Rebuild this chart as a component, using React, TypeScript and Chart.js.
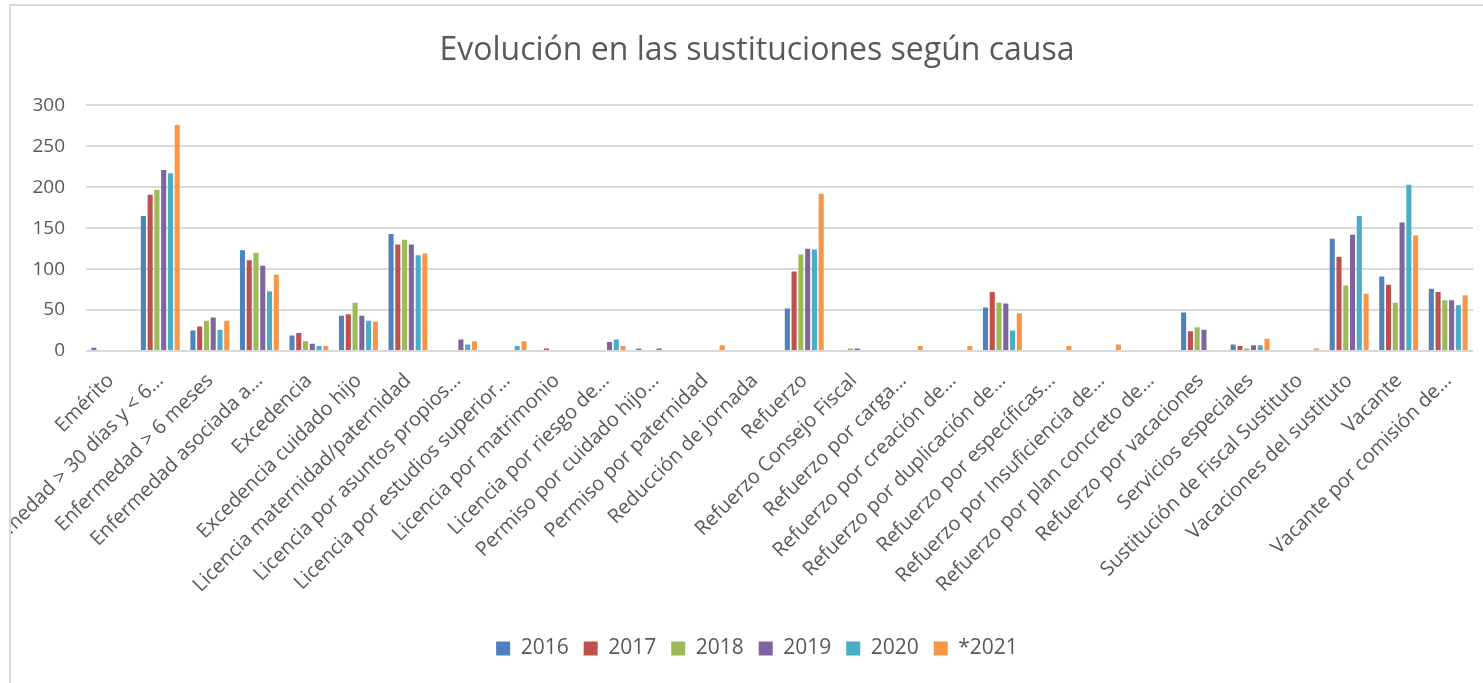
import { useEffect, useRef } from "react";
import { Chart, registerables } from "chart.js";

Chart.register(...registerables);

const FONT = "Open Sans";
const TEXT_COLOR = "#595959";

const categories = [
  "Emérito",
  "Enfermedad > 30 días y < 6…",
  "Enfermedad > 6 meses",
  "Enfermedad asociada a…",
  "Excedencia",
  "Excedencia cuidado hijo",
  "Licencia maternidad/paternidad",
  "Licencia por asuntos propios…",
  "Licencia por estudios superior…",
  "Licencia por matrimonio",
  "Licencia por riesgo de…",
  "Permiso por cuidado hijo…",
  "Permiso por paternidad",
  "Reducción de jornada",
  "Refuerzo",
  "Refuerzo Consejo Fiscal",
  "Refuerzo por carga…",
  "Refuerzo por creación de…",
  "Refuerzo por duplicación de…",
  "Refuerzo por específicas…",
  "Refuerzo por Insuficiencia de…",
  "Refuerzo por plan concreto de…",
  "Refuerzo por vacaciones",
  "Servicios especiales",
  "Sustitución de Fiscal Sustituto",
  "Vacaciones del sustituto",
  "Vacante",
  "Vacante por comisión de…",
];

const seriesLabels = ["2016", "2017", "2018", "2019", "2020", "*2021"];

const values2016 = [4, 165, 25, 123, 19, 43, 143, 0, 0, 0, 0, 3, 0, 0, 52, 0, 0, 0, 53, 0, 0, 0, 47, 8, 0, 137, 91, 76];
const values2017 = [0, 191, 30, 111, 22, 45, 130, 0, 0, 3, 0, 0, 0, 0, 97, 0, 0, 0, 72, 0, 0, 0, 24, 6, 0, 115, 81, 72];
const values2018 = [0, 197, 37, 120, 12, 59, 136, 0, 0, 0, 0, 0, 0, 0, 118, 3, 0, 0, 59, 0, 0, 0, 29, 3, 0, 80, 59, 62];
const values2019 = [0, 221, 41, 104, 9, 43, 130, 14, 0, 0, 11, 3, 0, 0, 125, 3, 0, 0, 58, 0, 0, 0, 26, 7, 0, 142, 157, 62];
const values2020 = [0, 217, 26, 73, 6, 37, 117, 8, 6, 0, 14, 0, 0, 0, 124, 0, 0, 0, 25, 0, 0, 0, 0, 7, 0, 165, 203, 56];
const values2021 = [0, 276, 37, 93, 6, 36, 119, 12, 12, 0, 6, 0, 7, 0, 192, 0, 6, 6, 46, 6, 8, 0, 0, 15, 3, 70, 141, 68];

const seriesColors = ["#4F81BD", "#C0504D", "#9BBB59", "#8064A2", "#4BACC6", "#F79646"];

const yMin = 0;
const yMax = 300;
const yStep = 50;

export default function App() {
  const canvasRef = useRef<HTMLCanvasElement>(null);

  useEffect(() => {
    if (!canvasRef.current) return;
    const allSeries = [values2016, values2017, values2018, values2019, values2020, values2021];
    const chart = new Chart(canvasRef.current, {
      type: "bar",
      data: {
        labels: categories,
        datasets: allSeries.map((d, i) => ({
          label: seriesLabels[i],
          data: d,
          backgroundColor: seriesColors[i],
          borderWidth: 0,
          categoryPercentage: 0.82,
          barPercentage: 0.75,
        })),
      },
      options: {
        responsive: false,
        animation: false,
        layout: { padding: { top: 0, left: 0, right: 10, bottom: 14 } },
        plugins: {
          title: {
            display: true,
            text: "Evolución en las sustituciones según causa",
            color: TEXT_COLOR,
            font: { family: FONT, size: 32, weight: "normal" },
            padding: { top: 26, bottom: 35 },
          },
          legend: {
            position: "bottom",
            labels: {
              color: TEXT_COLOR,
              font: { family: FONT, size: 21 },
              boxWidth: 14,
              boxHeight: 14,
              padding: 15,
            },
          },
          tooltip: { enabled: false },
        },
        scales: {
          x: {
            grid: { display: false },
            border: { display: false },
            ticks: {
              color: TEXT_COLOR,
              font: { family: FONT, size: 20 },
              minRotation: 45,
              maxRotation: 45,
              autoSkip: false,
              padding: 10,
            },
            afterFit: (s: any) => {
              s.height = 272;
            },
          },
          y: {
            min: yMin,
            max: yMax,
            ticks: {
              stepSize: yStep,
              color: TEXT_COLOR,
              font: { family: FONT, size: 19 },
              padding: 21,
            },
            grid: { color: "#d9d9d9", lineWidth: 2, drawTicks: false },
            border: { display: false },
            afterFit: (s: any) => {
              s.width = 75;
            },
          },
          yRightSpacer: {
            type: "linear",
            position: "right",
            min: yMin,
            max: yMax,
            grid: { display: false, drawTicks: false },
            border: { display: false },
            ticks: { display: false },
            afterFit: (s: any) => {
              s.width = 30;
            },
          },
        },
      },
    });
    return () => chart.destroy();
  }, []);

  return (
    <div
      style={{
        position: "fixed",
        left: 9,
        top: 4,
        width: 1510,
        height: 700,
        border: "2px solid #d9d9d9",
        boxSizing: "border-box",
        overflow: "hidden",
        background: "#fff",
      }}
    >
      <canvas ref={canvasRef} width={1502} height={677} style={{ display: "block" }} />
    </div>
  );
}
